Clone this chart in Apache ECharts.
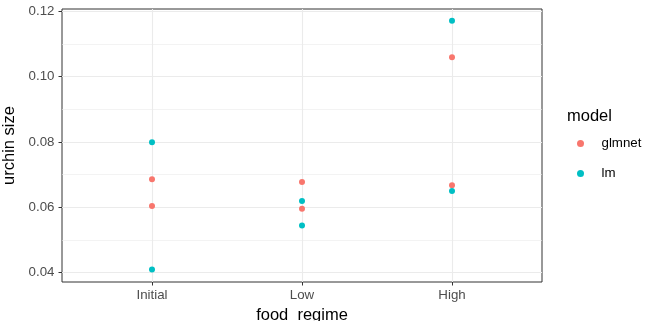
<!DOCTYPE html>
<html>
<head>
<meta charset="utf-8">
<script src="https://cdn.jsdelivr.net/npm/echarts@6/dist/echarts.min.js"></script>
<style>html,body{margin:0;padding:0;background:#fff}#c{width:646px;height:321px}</style>
</head>
<body>
<div id="c"></div>
<script>
const categories = ['Initial', 'Low', 'High'];
const glmnetValues = [[0.0686, 0.0604], [0.0677, 0.0595], [0.1059, 0.0667]];
const lmValues = [[0.0799, 0.0409], [0.0619, 0.0544], [0.1171, 0.0650]];
const yTicks = [0.04, 0.06, 0.08, 0.10, 0.12];
const yMinor = [0.05, 0.07, 0.09, 0.11];
const xTicks = [1, 2, 3];

function toPoints(vals) {
  const out = [];
  vals.forEach((arr, i) => arr.forEach(v => out.push([i + 1, v])));
  return out;
}

const font = 'Liberation Sans, Arial, sans-serif';
const chart = echarts.init(document.getElementById('c'), null, {renderer: 'canvas'});
chart.setOption({
  animation: false,
  backgroundColor: '#fff',
  title: {
    text: 'model', left: 562, top: 103,
    textStyle: {fontFamily: font, fontSize: 16.5, fontWeight: 'normal', color: '#000'}
  },
  legend: {
    orient: 'vertical', left: 572, top: 132, itemGap: 17,
    itemWidth: 14, itemHeight: 7,
    icon: 'circle',
    data: ['glmnet', 'lm'],
    textStyle: {fontFamily: font, fontSize: 13.3, color: '#000', padding: [0, 0, 0, 9]}
  },
  grid: {left: 62, right: 104, top: 9, bottom: 39, show: true, borderColor: '#333333', borderWidth: 1,
    backgroundColor: 'transparent', containLabel: false, outerBoundsMode: 'none'},
  xAxis: {
    type: 'value', min: 0.4, max: 3.6,
    name: 'food_regime', nameLocation: 'middle', nameGap: 25,
    nameTextStyle: {fontFamily: font, fontSize: 16.5, color: '#000'},
    axisLine: {show: false},
    axisTick: {show: true, length: 3.5, customValues: xTicks, lineStyle: {color: '#333333'}},
    axisLabel: {customValues: xTicks, margin: 7, fontFamily: font, fontSize: 13.3, color: '#4D4D4D',
      formatter: v => categories[Math.round(v) - 1]},
    splitLine: {show: false}
  },
  yAxis: {
    type: 'value', min: 0.0371, max: 0.1207,
    name: 'urchin size', nameLocation: 'middle', nameGap: 40,
    nameTextStyle: {fontFamily: font, fontSize: 16.5, color: '#000'},
    axisLine: {show: false},
    axisTick: {show: true, length: 3.5, customValues: yTicks, lineStyle: {color: '#333333'}},
    axisLabel: {customValues: yTicks, margin: 7.5, fontFamily: font, fontSize: 13.3, color: '#4D4D4D',
      formatter: v => v.toFixed(2)},
    splitLine: {show: false}
  },
  series: [
    {
      type: 'line', data: [], silent: true, z: 1,
      markLine: {
        z: 1, silent: true, symbol: 'none', label: {show: false}, animation: false,
        data: [
          ...yMinor.map(v => ({yAxis: v, lineStyle: {color: '#EBEBEB', width: 0.6, type: 'solid'}})),
          ...yTicks.map(v => ({yAxis: v, lineStyle: {color: '#EBEBEB', width: 1.1, type: 'solid'}})),
          ...xTicks.map(v => ({xAxis: v, lineStyle: {color: '#EBEBEB', width: 1.1, type: 'solid'}}))
        ]
      }
    },
    {name: 'glmnet', type: 'scatter', symbolSize: 6, z: 6, itemStyle: {color: '#F8766D', opacity: 1}, data: toPoints(glmnetValues)},
    {name: 'lm', type: 'scatter', symbolSize: 6, z: 6, itemStyle: {color: '#00BFC4', opacity: 1}, data: toPoints(lmValues)}
  ]
});
</script>
</body>
</html>
